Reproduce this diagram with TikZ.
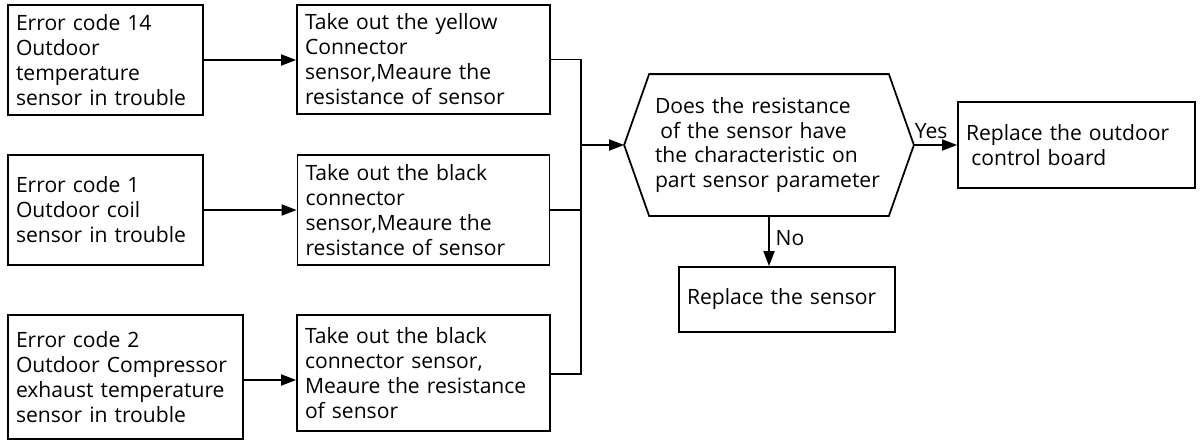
\documentclass[tikz,border=0pt]{standalone}
\usepackage{fontspec}
\setmainfont{Open Sans}
\usepackage{tikz}
\usetikzlibrary{positioning, arrows.meta, calc}

\begin{document}
\begin{tikzpicture}[
    font=\fontsize{12}{14.2}\selectfont,
    line width=1pt,
    box/.style={draw, rectangle, inner sep=0.16cm, align=left},
    flow/.style={-{Triangle[length=3mm, width=2.2mm]}},
    wire/.style={line cap=rect}
  ]
          \useasboundingbox (0,0) rectangle (24.02,-8.8);
          % left column
          \node[box, minimum width=3.9cm, minimum height=2.2cm, text width=3.58cm] (code14) at (2.11,-1.2)
            {Error code 14\\Outdoor\\temperature\\sensor in trouble};
          \node[box, minimum width=3.9cm, minimum height=2.2cm, text width=3.58cm] (code1) at (2.11,-4.2)
            {Error code 1\\Outdoor coil\\sensor in trouble};
          \node[box, minimum width=4.7cm, minimum height=2.48cm, text width=4.38cm] (code2) at (2.51,-7.54)
            {Error code 2\\Outdoor Compressor\\exhaust temperature\\sensor in trouble};
          % measuring steps
          \node[box, minimum width=5.06cm, minimum height=2.18cm, text width=4.74cm] (yellow) at (8.47,-1.19)
            {Take out the yellow\\Connector\\sensor,Meaure the\\resistance of sensor};
          \node[box, minimum width=5.04cm, minimum height=2.2cm, text width=4.72cm] (black) at (8.47,-4.2)
            {Take out the black\\connector\\sensor,Meaure the\\resistance of sensor};
          \node[box, minimum width=5.06cm, minimum height=2.32cm, text width=4.74cm] (exhaust) at (8.47,-7.46)
            {Take out the black\\connector sensor,\\Meaure the resistance\\of sensor};
          % decision
          \node[inner sep=0pt, minimum width=4.76cm, minimum height=2.8cm, text width=4.56cm, align=left] (check) at (15.38,-2.9)
            {Does the resistance\\\hspace*{0.25em}of the sensor have\\the characteristic on\\part sensor parameter};
          \draw (check.north west) -- (check.north east) -- ($(check.east)+(0.5,0)$) coordinate (checkR)
            -- (check.south east) -- (check.south west) -- ($(check.west)+(-0.5,0)$) coordinate (checkL) -- cycle;
          \node[box, minimum width=4.74cm, minimum height=1.72cm, text width=4.42cm] (board) at (21.53,-2.9)
            {Replace the outdoor\\\hspace*{0.25em}control board};
          \node[box, minimum width=4.32cm, minimum height=1.3cm, text width=4.0cm] (sensor) at (15.74,-5.99)
            {Replace the sensor};
          % connectors
          \coordinate (bus) at (11.62,-2.9);
          \draw[flow] (code14.east) -- (code14.east -| yellow.west);
          \draw[flow] (code1.east) -- (code1.east -| black.west);
          \draw[flow] ([yshift=-0.06cm]code2.east) -- ([yshift=-0.06cm]code2.east -| exhaust.west);
          \draw[wire] (yellow.east) -| (bus);
          \draw[wire] ([yshift=-0.02cm]exhaust.east) -| (bus);
          \draw[wire] (black.east) -- (black.east -| bus);
          \draw[flow] (bus) -- (checkL);
          \draw[flow] (checkR) -- node[above, pos=0.4] (yes) {Yes} (board.west);
          \draw[flow] (check.south) -- node[right, pos=0.45] (no) {No} (check.south |- sensor.north);
        \end{tikzpicture}
\end{document}
